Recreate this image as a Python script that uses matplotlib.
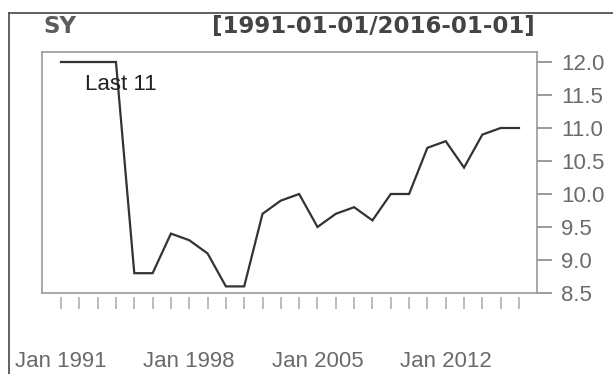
import matplotlib
matplotlib.use("Agg")
import matplotlib.pyplot as plt
from matplotlib.lines import Line2D

years = [1991, 1992, 1993, 1994, 1995, 1996, 1997, 1998, 1999, 2000, 2001, 2002, 2003,
         2004, 2005, 2006, 2007, 2008, 2009, 2010, 2011, 2012, 2013, 2014, 2015, 2016]
values = [12.0, 12.0, 12.0, 12.0, 8.8, 8.8, 9.4, 9.3, 9.1, 8.6, 8.6, 9.7, 9.9,
          10.0, 9.5, 9.7, 9.8, 9.6, 10.0, 10.0, 10.7, 10.8, 10.4, 10.9, 11.0, 11.0]
xlabel_years = [1991, 1998, 2005, 2012]
xlabel_texts = ["Jan 1991", "Jan 1998", "Jan 2005", "Jan 2012"]
yticks = [8.5, 9.0, 9.5, 10.0, 10.5, 11.0, 11.5, 12.0]
series_name = "SY"
range_text = "[1991-01-01/2016-01-01]"
last_text = "Last 11"

W, H = 613, 374
fig = plt.figure(figsize=(W / 100, H / 100), dpi=100)
fig.patch.set_facecolor("white")

L, R, T, B = 42, 537, 52, 293
ax = fig.add_axes([L / W, 1 - B / H, (R - L) / W, (B - T) / H])

ax.plot(years, values, color="#333333", lw=1.6, solid_joinstyle="miter")

ax.set_xlim(1991 - 19 / 18.32, 2016 + 18 / 18.32)
ax.set_ylim(8.5, 12.0 + 10 / 66)

box_col = "#9a9a9a"
for s in ["top", "left", "right"]:
    ax.spines[s].set_color(box_col)
    ax.spines[s].set_linewidth(1.2)
ax.spines["bottom"].set_color("none")
ax.spines["bottom"].set_position(("outward", 3))
ax.add_line(Line2D([0, 1], [0, 0], transform=ax.transAxes, color=box_col, lw=1.2, clip_on=False))

ax.yaxis.tick_right()
ax.set_yticks(yticks)
ax.set_yticklabels([f"{v:.1f}" for v in yticks])
ax.tick_params(axis="y", length=10.5, width=1.2, color="#8a8a8a", pad=7,
               labelsize=16, labelcolor="#6a6a6a")

ax.set_xticks(years)
ax.set_xticklabels([xlabel_texts[xlabel_years.index(y)] if y in xlabel_years else "" for y in years])
ax.tick_params(axis="x", length=8.6, width=1.2, color="#b0b0b0", pad=30,
               labelsize=16, labelcolor="#6a6a6a")
for lab in ax.get_xticklabels() + ax.get_yticklabels():
    lab.set_fontfamily("Liberation Sans")

ax.text((85 - L) / (R - L), (B - 90) / (B - T), last_text, transform=ax.transAxes,
        fontsize=16, family="Liberation Sans", color="#222222", va="baseline", ha="left")

fig.text(43 / W, 1 - 33 / H, series_name, fontsize=16.5, fontweight="bold",
         color="#5c5c5c", va="baseline", ha="left", family="DejaVu Sans")
fig.text(535 / W, 1 - 33 / H, range_text, fontsize=16.5, fontweight="bold",
         color="#444444", va="baseline", ha="right", family="DejaVu Sans")

# outer frame (top and left)
fig.add_artist(Line2D([9 / W, 1.0], [1 - 13 / H, 1 - 13 / H], transform=fig.transFigure,
                      color="#555555", lw=1.3))
fig.add_artist(Line2D([9 / W, 9 / W], [0, 1 - 13 / H], transform=fig.transFigure,
                      color="#555555", lw=1.3))

fig.savefig("out.png", dpi=100, facecolor="white")
